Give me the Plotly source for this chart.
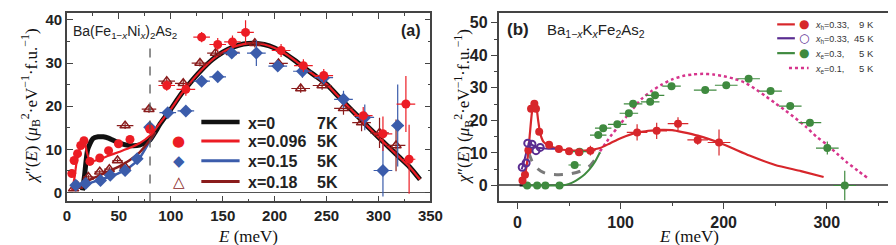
import plotly.graph_objects as go

# ---------------- Panel (a): Ba(Fe1-xNix)2As2 ----------------
# x = 0 (7K) line
A0_LINE_E = [15, 17, 20, 25, 30, 35, 40, 50, 60, 70, 80, 85, 90, 100, 110, 120, 130, 140, 150, 160, 170, 180,
             190, 200, 210, 220, 230, 240, 250, 260, 270, 280, 290, 300, 310, 320, 330, 340]
A0_LINE_Y = [0.5, 4, 10, 12.5, 12.9, 12.9, 12.6, 11.5, 10.9, 11.0, 12.2, 14.0, 16.0, 19.3, 22.8, 25.8, 28.5, 30.8,
             32.5, 33.7, 34.4, 34.6, 34.3, 33.5, 32.2, 30.5, 28.6, 26.9, 25.1, 22.6, 20.1, 17.7, 15.2, 12.8, 10.5,
             8.2, 5.9, 3.0]
# x = 0.096 (5K)
A096_LINE_E = [5, 7, 9, 11, 13, 15, 17, 19, 22, 25, 30, 40, 50, 60, 70, 80, 85, 90, 100, 110, 120, 130, 140, 150,
               160, 170, 180, 190, 200, 210, 220, 230, 240, 250, 260, 270, 280, 290, 300, 310, 320, 330, 340]
A096_LINE_Y = [0.5, 3, 6.5, 9, 10.8, 11.8, 11.8, 9.5, 7.4, 7.3, 7.6, 8.5, 9.4, 10.3, 11.4, 13.2, 14.6, 16.2, 19.3,
               22.8, 25.8, 28.5, 30.8, 32.5, 33.7, 34.4, 34.6, 34.3, 33.5, 32.2, 30.5, 28.6, 26.9, 25.1, 22.6,
               20.1, 17.7, 15.2, 12.8, 10.5, 8.2, 5.9, 3.0]
A096_E = [4.7, 6.9, 10.2, 13.3, 16.4, 22.1, 31.6, 40.1, 49.6, 60.7, 79.7, 96.1, 114.5, 129.7, 145.2, 159.4, 172.0,
          206.2, 227.7, 247.3, 285.3, 304.3, 326.4, 329.5]
A096_Y = [4.4, 7.4, 9.0, 10.9, 12.0, 7.2, 8.0, 9.7, 11.3, 12.3, 14.7, 24.8, 23.9, 36.0, 34.3, 34.9, 37.1, 32.9,
          29.4, 27.1, 17.8, 13.6, 20.5, 7.7]
A096_DX = [0, 0, 0, 0, 0, 0, 2, 3, 3, 3, 4, 8, 9, 8, 8, 8, 8, 9, 9, 9, 9, 9, 9, 6]
A096_DY = [0.8, 0.8, 0.8, 0.8, 0.8, 0.8, 0.8, 0.8, 0.8, 0.8, 1.0, 1.2, 1.5, 1.2, 1.5, 1.5, 2.8, 1.5, 1.5, 1.5,
           2.0, 4.0, 6.5, 8.0]
# x = 0.15 (5K)
A15_LINE_E = [8, 15, 20, 30, 40, 50, 60, 70, 80, 85]
A15_LINE_Y = [1.0, 1.5, 2.0, 2.8, 3.6, 4.5, 5.8, 8.0, 12.0, 14.0]
A15_E = [8.5, 18, 32.3, 41.7, 56, 67.6, 79.7, 97.1, 114.5, 129.7, 145.2, 158.7, 182.4, 203, 226.8, 247.3, 266.3,
         286.8, 304.3, 318.5]
A15_Y = [1.7, 2.1, 2.8, 4.0, 5.1, 7.8, 15.1, 18.5, 18.9, 25.8, 26.8, 32.3, 32.3, 29.3, 28.1, 26.6, 21.6, 17.4,
         5.1, 15.5]
A15_DX = [0, 0, 3, 3, 3, 3, 5, 8, 8, 8, 8, 8, 9, 9, 9, 9, 9, 9, 9, 6]
A15_DY = [0.5, 0.5, 0.5, 0.5, 0.5, 0.5, 0.8, 0.8, 0.8, 1, 1, 1, 3, 1, 1.5, 1.5, 2, 3, 6, 9.5]
# x = 0.18 (5K)
A18_LINE_E = [8, 15, 20, 30, 40, 50, 60, 70, 80, 85]
A18_LINE_Y = [0.8, 2.0, 2.7, 3.8, 4.9, 6.0, 7.4, 9.3, 12.2, 14.0]
A18_E = [6.4, 10.2, 20.6, 31.6, 40.8, 48.7, 56, 56, 79, 96.1, 112, 128.1, 143, 158.2, 180.9, 203.7, 225.1, 245.7,
         266.3, 283.7, 301, 316.9]
A18_Y = [0.9, 1.5, 3.6, 4.8, 5.4, 7.4, 5.9, 15.5, 19.3, 25.8, 25.3, 30.0, 32.3, 32.5, 34.6, 29.9, 24.1, 24.8,
         19.5, 16.2, 13.8, 10.9]
A18_DX = [2, 2, 5, 5, 5, 5, 5, 8, 7, 8, 8, 8, 8, 8, 9, 9, 9, 9, 9, 9, 9, 9]
A18_DY = [0.5, 0.5, 0.5, 0.5, 0.5, 0.5, 0.5, 0.8, 0.8, 0.8, 0.8, 0.8, 1, 1, 1, 1, 1, 1, 1.5, 2, 3.5, 6]
A_DASH_E = 80

# ---------------- Panel (b): Ba1-xKxFe2As2 ----------------
B_H9_LINE_E = [4, 6, 8, 10, 12, 14, 16, 18, 20, 22, 25, 30, 40, 50, 60, 70, 80, 90, 100, 110, 120, 130, 140, 150,
               160, 175, 200, 225, 250, 275, 297]
B_H9_LINE_Y = [0.5, 2, 4.5, 9, 16, 22.5, 25.3, 24.5, 20, 16, 13.5, 12.3, 11.2, 10.8, 10.7, 10.9, 11.5, 13, 14.5,
               15.7, 16.5, 16.9, 17.1, 17.0, 16.4, 15.3, 12.6, 9.2, 6.3, 4.4, 2.6]
B_H9_E = [4.8, 7.2, 10.5, 13.1, 16.3, 17.9, 21.0, 30.6, 40.1, 50.0, 59.6, 70.7, 116, 135, 155.7, 174.8, 195.5]
B_H9_Y = [1.5, 3.3, 10.8, 23.6, 25.1, 23.6, 16.5, 12.5, 11.2, 10.5, 10.2, 10.7, 16.3, 16.8, 19.0, 14.0, 13.2]
B_H9_DX = [0, 0, 0, 0, 0, 0, 0, 2, 2, 3, 3, 5, 10, 10, 10, 10, 11]
B_H9_DY = [0.5, 0.5, 0.5, 0.5, 0.5, 0.5, 0.5, 0.8, 0.8, 1, 1, 1.5, 2.5, 2.5, 2, 1.5, 4]

B_H45_LINE_E = [4, 6, 8, 10, 12, 15, 20, 25, 30, 40]
B_H45_LINE_Y = [5, 7, 9.5, 12, 12.8, 12.3, 11.6, 11.4, 11.3, 11.3]
B_H45_E = [4.5, 8.3, 9.9, 14.0, 17.9, 22.0]
B_H45_Y = [5.6, 6.9, 13.0, 12.7, 10.7, 11.7]

B_GRAY_E = [11, 14, 17, 20, 25, 30, 40, 50, 60, 70, 80]
B_GRAY_Y = [10, 7.5, 6, 5, 4, 3.5, 3.3, 3.5, 4.3, 6, 10.2]

B_E3_LINE_E = [5, 20, 40, 45, 50, 55, 60, 65, 70, 75, 80]
B_E3_LINE_Y = [0, 0, 0, 0.1, 0.5, 1.2, 2.2, 3.4, 5.0, 7.2, 10.2]
B_E3_E = [9.3, 19, 27, 40.7, 55.4, 60.2, 78.3, 83.1, 96.8, 108, 112.1, 128.7, 133.4, 149.4, 182.1, 202.5, 224.2,
          245.5, 264.6, 283.7, 300.6, 317.5]
B_E3_Y = [0, 0, 0, 0, 6.3, 10.4, 15.5, 17.6, 18.8, 22.2, 25.1, 25.7, 27.7, 30.5, 29.3, 30.8, 32.8, 29.0, 24.4,
          19.3, 11.5, 0]
B_E3_DX = [0, 0, 0, 0, 6, 8, 8, 8, 9, 9, 9, 9, 9, 9, 11, 11, 11, 11, 11, 11, 11, 11]
B_E3_DY = [0, 0, 0, 0, 0.8, 0.8, 0.8, 0.8, 0.8, 0.8, 0.8, 0.8, 0.8, 0.8, 0.8, 0.8, 0.8, 0.8, 0.8, 1, 2, 4.5]

B_E1_LINE_E = [80, 90, 100, 110, 120, 130, 140, 150, 160, 170, 180, 190, 200, 210, 220, 230, 240, 250, 260, 270,
               280, 290, 300, 310, 320, 330, 340]
B_E1_LINE_Y = [10.5, 15, 19, 22.8, 26.5, 29, 31, 32.6, 33.6, 34.1, 34.3, 34.1, 33.6, 32.8, 31.7, 29.8, 27.6, 25.3,
               23.0, 20.6, 18.0, 15.0, 12.6, 9.8, 7.0, 4.6, 2.2]
B_BLACK_E = [2, 8]
B_BLACK_Y = [0, 0]

# colours
RED_A, BLUE_A, DRED_A = "#ec1c24", "#3b5cab", "#8a1c1c"
RED_B, PUR_B, GRN_B, MAG_B, GRY_B = "#d7262b", "#5a2d91", "#3f8a3f", "#d6348c", "#7a7a7a"

fig = go.Figure()


def line(x, y, color, width, ax, dash=None):
    fig.add_trace(go.Scatter(x=x, y=y, mode="lines", xaxis=ax[0], yaxis=ax[1], showlegend=False,
                             line=dict(color=color, width=width, dash=dash, shape="spline", smoothing=0.6),
                             hoverinfo="skip"))


def pts(x, y, color, symbol, size, ax, dx=None, dy=None, lw=0, fill=None):
    m = dict(color=fill or color, symbol=symbol, size=size, line=dict(color=color, width=lw))
    fig.add_trace(go.Scatter(
        x=x, y=y, mode="markers", xaxis=ax[0], yaxis=ax[1], showlegend=False, marker=m,
        error_x=dict(type="data", array=dx, color=color, thickness=1.2, width=0) if dx else None,
        error_y=dict(type="data", array=dy, color=color, thickness=1.2, width=0) if dy else None))


A = ("x", "y")
B = ("x2", "y2")

# panel (a)
line(A0_LINE_E, A0_LINE_Y, "#111111", 5, A)
line(A15_LINE_E, A15_LINE_Y, BLUE_A, 2.5, A)
line(A18_LINE_E, A18_LINE_Y, DRED_A, 2.5, A)
line(A096_LINE_E, A096_LINE_Y, RED_A, 2.2, A)
pts(A18_E, A18_Y, DRED_A, "triangle-up-open", 9, A, A18_DX, A18_DY, lw=1.5)
pts(A15_E, A15_Y, BLUE_A, "diamond", 10, A, A15_DX, A15_DY)
pts(A096_E, A096_Y, RED_A, "circle", 9, A, A096_DX, A096_DY)

# panel (b)
line(B_BLACK_E, B_BLACK_Y, "#111111", 2, B)
line(B_GRAY_E, B_GRAY_Y, GRY_B, 3, B, dash="dash")
line(B_E3_LINE_E, B_E3_LINE_Y, GRN_B, 2, B)
line(B_E1_LINE_E, B_E1_LINE_Y, MAG_B, 2.5, B, dash="dot")
line(B_H9_LINE_E, B_H9_LINE_Y, RED_B, 2.2, B)
line(B_H45_LINE_E, B_H45_LINE_Y, PUR_B, 2, B)
pts(B_E3_E, B_E3_Y, GRN_B, "circle", 8, B, B_E3_DX, B_E3_DY)
pts(B_H9_E, B_H9_Y, RED_B, "circle", 8, B, B_H9_DX, B_H9_DY)
pts(B_H45_E, B_H45_Y, PUR_B, "circle-open", 7, B, lw=2)

W, H = 896, 245


def px(x):
    return x / W


def py(y):
    return 1 - y / H


shapes = [dict(type="line", xref="x", yref="y", x0=A_DASH_E, x1=A_DASH_E, y0=-2.1, y1=34.7,
               line=dict(color="#555", width=1.3, dash="dash"))]
annotations = []

# legend (a)
leg_a = [("x=0", "7K", "#111111", None, 4.5), ("x=0.096", "5K", RED_A, "●", 3),
         ("x=0.15", "5K", BLUE_A, "◆", 3), ("x=0.18", "5K", DRED_A, "△", 3)]
rows_a = [113, 132, 152, 173]
for (lab, temp, col, sym, w), r in zip(leg_a, rows_a):
    shapes.append(dict(type="line", xref="paper", yref="paper", x0=px(193), x1=px(232), y0=py(r), y1=py(r),
                       line=dict(color=col, width=w)))
    if sym:
        annotations.append(dict(x=px(170), y=py(r), xref="paper", yref="paper", text=sym, showarrow=False,
                                font=dict(color=col, size=15, family="DejaVu Sans"), xanchor="center",
                                yanchor="middle"))
    annotations.append(dict(x=px(239), y=py(r + 1), xref="paper", yref="paper", text=lab, showarrow=False,
                            font=dict(color="#222", size=16, family="Liberation Sans", weight="bold"),
                            xanchor="left", yanchor="middle"))
    annotations.append(dict(x=px(309), y=py(r + 1), xref="paper", yref="paper", text=temp, showarrow=False,
                            font=dict(color="#222", size=16, family="Liberation Sans", weight="bold"),
                            xanchor="left", yanchor="middle"))

# legend (b)
leg_b = [("<i>x</i><sub>h</sub>=0.33,", "9 K", RED_B, "●", None),
         ("<i>x</i><sub>h</sub>=0.33,", "45 K", PUR_B, "○", None),
         ("<i>x</i><sub>e</sub>=0.3,", "5 K", GRN_B, "●", None),
         ("<i>x</i><sub>e</sub>=0.1,", "5 K", MAG_B, None, "dot")]
rows_b = [14.5, 28.5, 43.5, 58.5]
for (lab, temp, col, sym, dash), r in zip(leg_b, rows_b):
    if dash:
        shapes.append(dict(type="line", xref="paper", yref="paper", x0=px(792), x1=px(812), y0=py(r), y1=py(r),
                           line=dict(color=col, width=2.5, dash="dot")))
    else:
        shapes.append(dict(type="line", xref="paper", yref="paper", x0=px(780), x1=px(798), y0=py(r), y1=py(r),
                           line=dict(color=col, width=2.2)))
        annotations.append(dict(x=px(807), y=py(r), xref="paper", yref="paper", text=sym, showarrow=False,
                                font=dict(color=col, size=12, family="DejaVu Sans", weight="bold"),
                                xanchor="center", yanchor="middle"))
    annotations.append(dict(x=px(816), y=py(r + 1), xref="paper", yref="paper", text=lab, showarrow=False,
                            font=dict(color="#333", size=9, family="Liberation Sans"),
                            xanchor="left", yanchor="middle"))
    annotations.append(dict(x=px(881), y=py(r), xref="paper", yref="paper", text=temp, showarrow=False,
                            font=dict(color="#333", size=9.5, family="Liberation Sans"),
                            xanchor="right", yanchor="middle"))

# panel labels and compound names
annotations += [
    dict(x=px(60), y=py(22), xref="paper", yref="paper", showarrow=False, xanchor="left", yanchor="middle",
         text="Ba(Fe<sub>1−<i>x</i></sub>Ni<sub><i>x</i></sub>)<sub>2</sub>As<sub>2</sub>",
         font=dict(size=14, family="Liberation Sans", color="#222")),
    dict(x=px(407), y=py(21), xref="paper", yref="paper", showarrow=False, xanchor="center", yanchor="middle",
         text="(a)", font=dict(size=16, family="Liberation Sans", color="#222", weight="bold")),
    dict(x=px(516), y=py(20), xref="paper", yref="paper", showarrow=False, xanchor="center", yanchor="middle",
         text="(b)", font=dict(size=17, family="Liberation Sans", color="#222", weight="bold")),
    dict(x=px(543), y=py(21), xref="paper", yref="paper", showarrow=False, xanchor="left", yanchor="middle",
         text="Ba<sub>1−<i>x</i></sub>K<sub><i>x</i></sub>Fe<sub>2</sub>As<sub>2</sub>",
         font=dict(size=15, family="Liberation Sans", color="#222")),
]
# axis titles
ytitle = "<i>χ</i>″(<i>E</i>) (<i>μ</i><sub>B</sub><sup>2</sup>·eV<sup>−1</sup>·f.u.<sup>−1</sup>)"
xtitle = "<i>E</i> (meV)"
serif = dict(size=17, family="Liberation Serif", color="#111")
annotations += [
    dict(x=px(19), y=py(97), xref="paper", yref="paper", showarrow=False, textangle=-90, text=ytitle,
         xanchor="center", yanchor="middle", font=serif),
    dict(x=px(460), y=py(98), xref="paper", yref="paper", showarrow=False, textangle=-90, text=ytitle,
         xanchor="center", yanchor="middle", font=serif),
    dict(x=px(241), y=py(228), xref="paper", yref="paper", showarrow=False, text=xtitle,
         xanchor="center", yanchor="middle", font=serif),
    dict(x=px(690), y=py(228), xref="paper", yref="paper", showarrow=False, text=xtitle,
         xanchor="center", yanchor="middle", font=serif),
]

tickfont_a = dict(size=15, family="Liberation Sans", color="#222", weight="bold")
tickfont_b = dict(size=16, family="Liberation Sans", color="#222", weight="bold")
frame = dict(showline=True, linecolor="#444", linewidth=1.5, showgrid=False)

fig.update_layout(
    width=W, height=H, margin=dict(l=0, r=0, t=0, b=0), paper_bgcolor="white", plot_bgcolor="white",
    showlegend=False, shapes=shapes, annotations=annotations,
    xaxis=dict(domain=[px(56), px(426.5)], range=[0, 350], anchor="y", tickvals=[0, 50, 100, 150, 200, 250, 300, 350],
               ticks="inside", ticklen=6, tickwidth=1.2, tickcolor="#444", mirror="ticks",
               minor=dict(dtick=25, tick0=0, ticklen=3, ticks="inside", tickcolor="#444"),
               tickfont=tickfont_a, zeroline=False, **frame),
    yaxis=dict(domain=[py(193), py(3)], range=[-2.07, 41.6], anchor="x", tickvals=[0, 10, 20, 30, 40],
               ticks="inside", ticklen=6, tickwidth=1.2, tickcolor="#444", mirror="ticks",
               minor=dict(dtick=5, tick0=0, ticklen=3, ticks="inside", tickcolor="#444"),
               tickfont=tickfont_a, zeroline=True, zerolinecolor="#555", zerolinewidth=1.2, **frame),
    xaxis2=dict(domain=[px(496), px(893.5)], range=[-18.4, 360], anchor="y2", tickvals=[0, 100, 200, 300],
                ticks="outside", ticklen=6, tickwidth=1.2, tickcolor="#444", mirror=True,
                minor=dict(dtick=50, tick0=0, ticklen=3, ticks="outside", tickcolor="#444"),
                tickfont=tickfont_b, zeroline=False, **frame),
    yaxis2=dict(domain=[py(193), py(3)], range=[-4.9, 53], anchor="x2", tickvals=[0, 10, 20, 30, 40, 50],
                ticks="outside", ticklen=6, tickwidth=1.2, tickcolor="#444", mirror=True,
                minor=dict(dtick=5, tick0=0, ticklen=3, ticks="outside", tickcolor="#444"),
                tickfont=tickfont_b, zeroline=True, zerolinecolor="#666", zerolinewidth=1.5, **frame),
)

fig.write_html("out.html")
